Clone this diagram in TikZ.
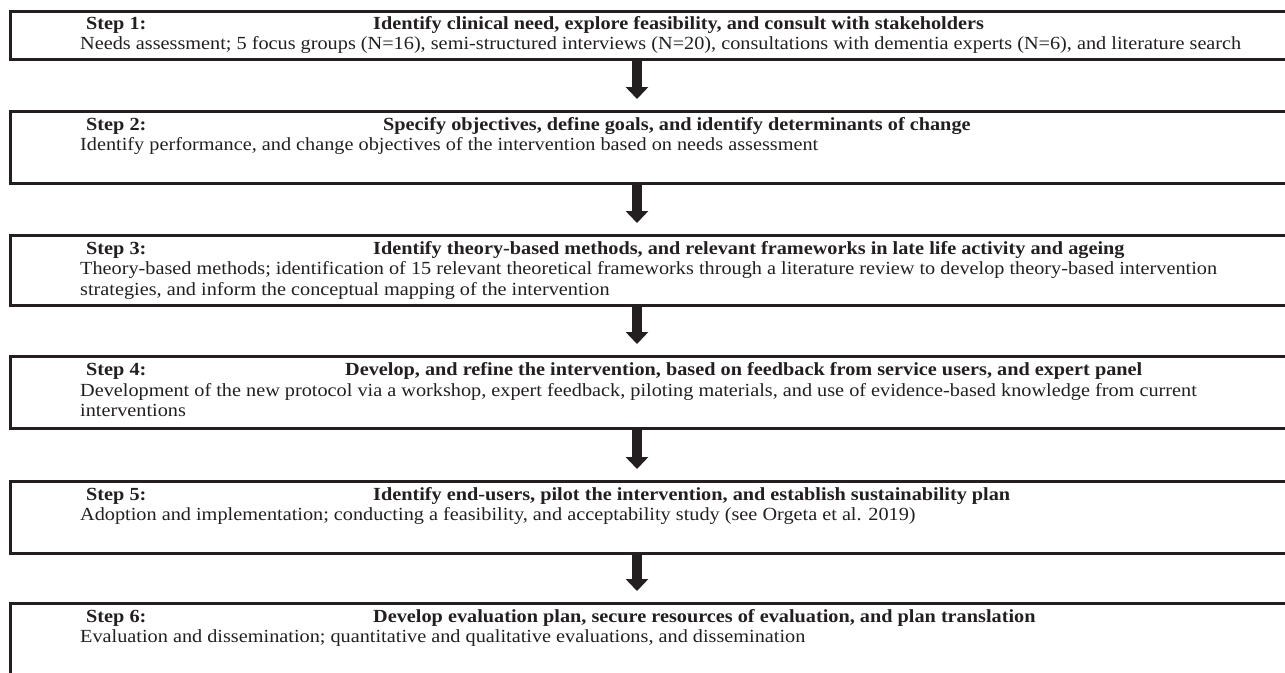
\documentclass[tikz,border=0pt]{standalone}
\usepackage{fontspec}
\setmainfont[FakeStretch=1.095]{Liberation Serif}
\usetikzlibrary{arrows.meta}
\definecolor{ink}{HTML}{231F20}
\begin{document}
\begin{tikzpicture}[x=1pt,y=-1pt,
  stepbox/.style={draw=ink,line width=2.8pt,rectangle,inner sep=0pt,anchor=north west},
  lbl/.style={anchor=base west,inner sep=0pt,font=\fontsize{18.5}{20.5}\selectfont\bfseries,text=ink},
  ttl/.style={anchor=base west,inner sep=0pt,font=\fontsize{18.5}{20.5}\selectfont\bfseries,text=ink},
  body/.style={anchor=base west,inner sep=0pt,font=\fontsize{18.5}{20.5}\selectfont,text=ink},
  flow/.style={draw=ink,line width=10pt,-{Triangle[width=22pt,length=12pt]},shorten >=11pt}]
\useasboundingbox (0,0) rectangle (1285,672);
\clip (0,0) rectangle (1285,672);
% boxes
\node[stepbox,minimum width=1290pt,minimum height=48pt] (b1) at (9,10) {};
\node[stepbox,minimum width=1290pt,minimum height=72pt] (b2) at (9,110) {};
\node[stepbox,minimum width=1290pt,minimum height=70pt] (b3) at (9,234) {};
\node[stepbox,minimum width=1290pt,minimum height=72pt] (b4) at (9,355) {};
\node[stepbox,minimum width=1290pt,minimum height=72pt] (b5) at (9,480) {};
\node[stepbox,minimum width=1290pt,minimum height=100pt] (b6) at (9,602) {};
% step 1
\node[lbl] (s1) at (86,29.5) {Step 1:};
\node[ttl] (t1) at (373,29.5) {Identify clinical need, explore feasibility, and consult with stakeholders};
\node[body] (d1) at (80,49.5) {Needs assessment; 5 focus groups (N=16), semi-structured interviews (N=20), consultations with dementia experts (N=6), and literature search};
% step 2
\node[lbl] (s2) at (86,130) {Step 2:};
\node[ttl] (t2) at (383,130) {Specify objectives, define goals, and identify determinants of change};
\node[body] (d2) at (80,150.5) {Identify performance, and change objectives of the intervention based on needs assessment};
% step 3
\node[lbl] (s3) at (86,254) {Step 3:};
\node[ttl] (t3) at (373,254) {Identify theory-based methods, and relevant frameworks in late life activity and ageing};
\node[body] (d3a) at (80,274.5) {Theory-based methods; identification of 15 relevant theoretical frameworks through a literature review to develop theory-based intervention};
\node[body] (d3b) at (80,295) {strategies, and inform the conceptual mapping of the intervention};
% step 4
\node[lbl] (s4) at (86,375.5) {Step 4:};
\node[ttl] (t4) at (345,375.5) {Develop, and refine the intervention, based on feedback from service users, and expert panel};
\node[body] (d4a) at (80,396) {Development of the new protocol via a workshop, expert feedback, piloting materials, and use of evidence-based knowledge from current};
\node[body] (d4b) at (80,416.5) {interventions};
% step 5
\node[lbl] (s5) at (86,500) {Step 5:};
\node[ttl] (t5) at (373,500) {Identify end-users, pilot the intervention, and establish sustainability plan};
\node[body] (d5) at (80,520.5) {Adoption and implementation; conducting a feasibility, and acceptability study (see Orgeta et al. 2019)};
% step 6
\node[lbl] (s6) at (86,622) {Step 6:};
\node[ttl] (t6) at (373,622) {Develop evaluation plan, secure resources of evaluation, and plan translation};
\node[body] (d6) at (80,642.5) {Evaluation and dissemination; quantitative and qualitative evaluations, and dissemination};
% arrows
\coordinate (ax) at (637,0);
\draw[flow] (b1.south -| ax) -- (b2.north -| ax);
\draw[flow] (b2.south -| ax) -- (b3.north -| ax);
\draw[flow] (b3.south -| ax) -- (b4.north -| ax);
\draw[flow] (b4.south -| ax) -- (b5.north -| ax);
\draw[flow] (b5.south -| ax) -- (b6.north -| ax);
\end{tikzpicture}
\end{document}
